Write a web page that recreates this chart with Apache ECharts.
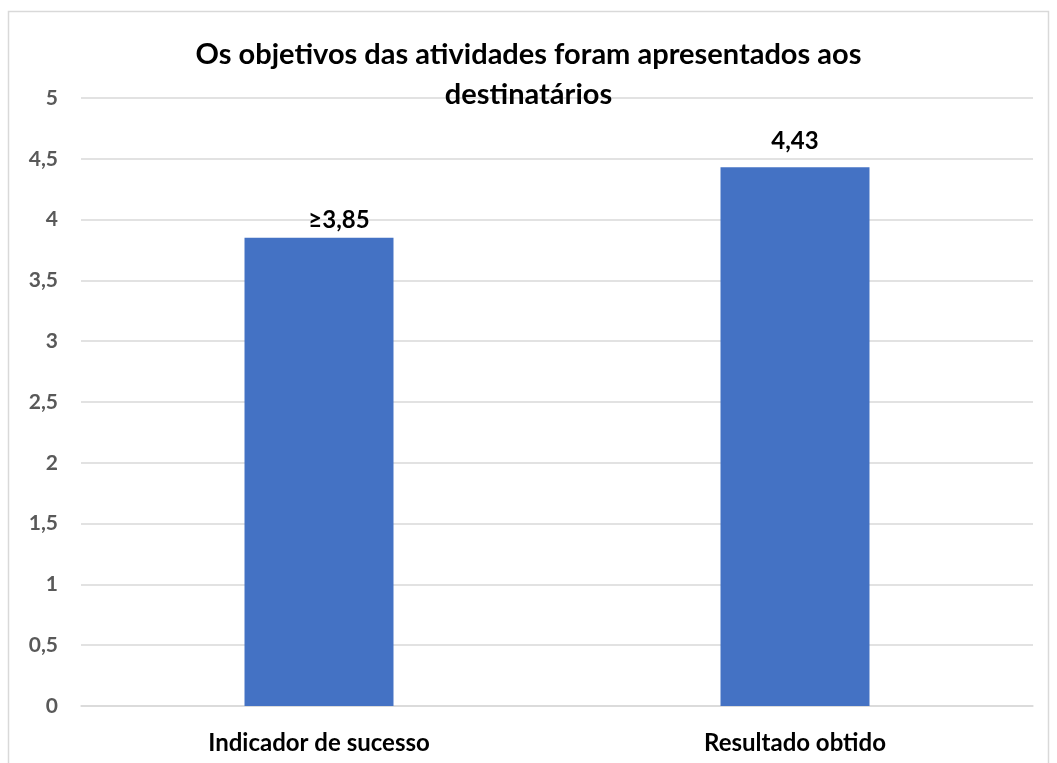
<!DOCTYPE html>
<html><head><meta charset="utf-8">
<script src="https://cdn.jsdelivr.net/npm/echarts@6/dist/echarts.min.js"></script>
<style>html,body{margin:0;padding:0;background:#fff}#c{width:1057px;height:763px}</style>
</head><body><div id="c"></div>
<script>
const categories = ['Indicador de sucesso', 'Resultado obtido'];
const values = [3.85, 4.43];
const valueLabels = ['≥3,85', '4,43'];
const titleText = 'Os objetivos das atividades foram apresentados aos\ndestinatários';
const FONT = 'Lato, "Open Sans", sans-serif';
const labelOffsets = [[20, 8], [0, 0]];
const chart = echarts.init(document.getElementById('c'), null, {renderer: 'canvas'});
chart.setOption({
  animation: false,
  backgroundColor: '#fff',
  graphic: [{type: 'rect', shape: {x: 8.5, y: 11.5, width: 1040, height: 800}, style: {fill: 'none', stroke: '#d9d9d9', lineWidth: 1.5}, silent: true, z: -1}],
  title: {text: titleText, left: 'center', top: 30,
    textStyle: {fontFamily: FONT, fontSize: 29, fontWeight: 'bold', color: '#000', lineHeight: 40}},
  grid: {left: 81, right: 24, top: 98, bottom: 57, containLabel: false},
  xAxis: {type: 'category', data: categories,
    axisLine: {show: true, lineStyle: {color: '#d9d9d9', width: 1.5}}, axisTick: {show: false},
    axisLabel: {margin: 25, fontFamily: FONT, fontSize: 24, fontWeight: 'bold', color: '#000'}},
  yAxis: {type: 'value', min: 0, max: 5, interval: 0.5,
    axisLine: {show: false}, axisTick: {show: false},
    splitLine: {lineStyle: {color: '#d9d9d9', width: 1.5}},
    axisLabel: {margin: 23, fontFamily: FONT, fontSize: 21, fontWeight: 'bold', color: '#595959',
      formatter: v => String(v).replace('.', ',')}},
  series: [{type: 'bar', barWidth: '31.3%',
    data: values.map((v, i) => ({value: v, label: {offset: labelOffsets[i]}})),
    itemStyle: {color: '#4472C4'},
    label: {show: true, position: 'top', distance: 14, fontFamily: FONT, fontSize: 24, fontWeight: 'bold', color: '#000',
      formatter: p => valueLabels[p.dataIndex]}}]
});
</script></body></html>
